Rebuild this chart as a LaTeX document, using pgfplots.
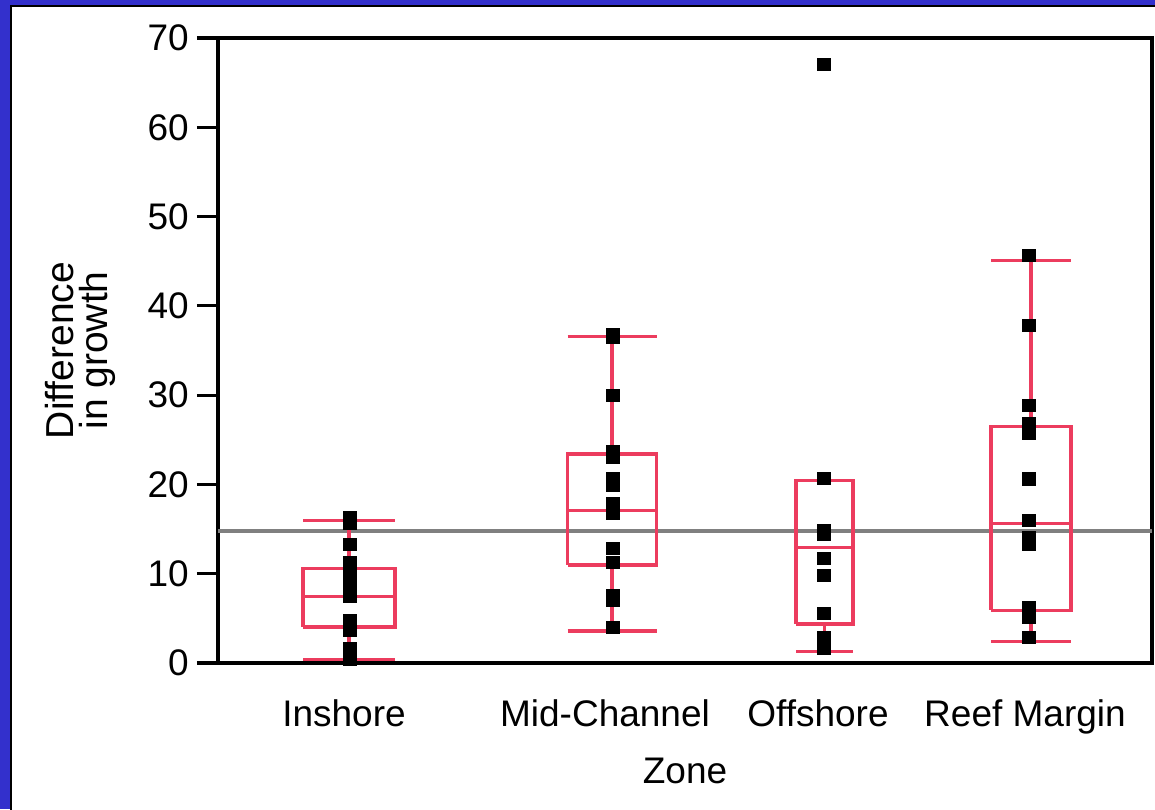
\documentclass[border=0pt]{standalone}
\usepackage{fontspec}
\setmainfont{Liberation Sans}
\usepackage{pgfplots}
\pgfplotsset{compat=1.18}

\definecolor{frameblue}{RGB}{51,48,204}
\definecolor{boxred}{RGB}{236,60,94}
\definecolor{meangray}{RGB}{128,128,128}

% points of each zone (x = position of the zone's column)
\pgfplotstableread{
x y
132 16.3
132 15.6
132 13.3
132 11.2
132 10.6
132 10.0
132 9.4
132 8.6
132 7.5
132 4.7
132 3.6
132 1.6
132 0.9
132 0.4
}\inshore
\pgfplotstableread{
x y
395 36.8
395 36.5
395 30.0
395 23.7
395 23.0
395 20.7
395 19.9
395 17.9
395 16.8
395 12.8
395 11.3
395 7.5
395 7.0
395 3.95
}\midchannel
\pgfplotstableread{
x y
606 67.0
606 20.7
606 14.8
606 14.4
606 11.7
606 9.8
606 5.5
606 2.8
606 1.6
}\offshore
\pgfplotstableread{
x y
811 45.6
811 37.8
811 28.8
811 26.8
811 25.7
811 20.6
811 16.0
811 14.1
811 13.3
811 6.2
811 5.1
811 2.9
}\reef

% quantile box: #1 centre, #2 left, #3 right, #4 lower whisker, #5 Q1, #6 median, #7 Q3, #8 upper whisker
\newcommand{\zonebox}[8]{%
  \addplot[boxred, line width=1.6pt] coordinates {(#2,#5) (#3,#5) (#3,#7) (#2,#7) (#2,#5)};
  \addplot[boxred, line width=1.6pt] coordinates {(#2,#6) (#3,#6)};
  \addplot[boxred, line width=1.6pt] coordinates {(#1,#7) (#1,#8)};
  \addplot[boxred, line width=1.6pt] coordinates {(#1,#5) (#1,#4)};
  \addplot[boxred, line width=1.6pt] coordinates {(#2,#8) (#3,#8)};
  \addplot[boxred, line width=1.6pt] coordinates {(#2,#4) (#3,#4)};
}

\begin{document}
\begin{tikzpicture}
\path[use as bounding box] (-109pt,-73pt) rectangle (468.5pt,331.5pt);
\fill[frameblue] (-109pt,-73pt) rectangle (468.5pt,331.5pt);
\fill[black] (-104pt,-80pt) rectangle (480pt,329pt);
\fill[white] (-103pt,-80pt) rectangle (480pt,328pt);
\begin{axis}[
  at={(0,0)}, anchor=south west,
  scale only axis,
  width=467pt, height=312.5pt,
  xmin=0, xmax=934,
  ymin=0, ymax=70,
  line width=1.6pt,
  ytick={0,10,...,70},
  xtick={126,387,600,807},
  xticklabels={Inshore,Mid-Channel,Offshore,Reef Margin},
  major x tick style={draw=none},
  extra x ticks={260,523,685},
  extra x tick labels={},
  extra x tick style={major tick style={draw=black, line width=1.6pt}},
  major tick style={black, line width=1.6pt},
  tick align=outside,
  tick pos=left,
  major tick length=10.5pt,
  axis line style={line width=1.6pt},
  tick label style={font=\fontsize{18.5}{20}\selectfont},
  xticklabel style={yshift=-3.5pt},
  /pgf/number format/assume math mode=true,
  xlabel={Zone},
  ylabel={Difference\\in growth},
  every axis x label/.style={at={(axis description cs:0.5,-0.192)}, anchor=base,
    font=\fontsize{18.5}{20}\selectfont},
  every axis y label/.style={at={(axis description cs:-0.147,0.5)}, rotate=90, anchor=center,
    align=center, font=\fontsize{19.5}{17}\selectfont},
  clip=false,
]
% overall mean
\addplot[meangray, line width=1.7pt] coordinates {(0,14.8) (934,14.8)};

% quantile boxes
\zonebox{131}{85}{177}{0.4}{4.03}{7.47}{10.56}{16.0}
\zonebox{394}{349.5}{438.5}{3.58}{10.97}{17.1}{23.4}{36.6}
\zonebox{606.5}{578}{635}{1.27}{4.37}{12.9}{20.4}{20.4}
\zonebox{813}{773}{853}{2.4}{5.9}{15.6}{26.5}{45.1}

% raw points
\addplot[only marks, mark=square*, mark size=2.5pt, black] table[x=x,y=y] {\inshore};
\addplot[only marks, mark=square*, mark size=2.5pt, black] table[x=x,y=y] {\midchannel};
\addplot[only marks, mark=square*, mark size=2.5pt, black] table[x=x,y=y] {\offshore};
\addplot[only marks, mark=square*, mark size=2.5pt, black] table[x=x,y=y] {\reef};
\end{axis}
\end{tikzpicture}
\end{document}
